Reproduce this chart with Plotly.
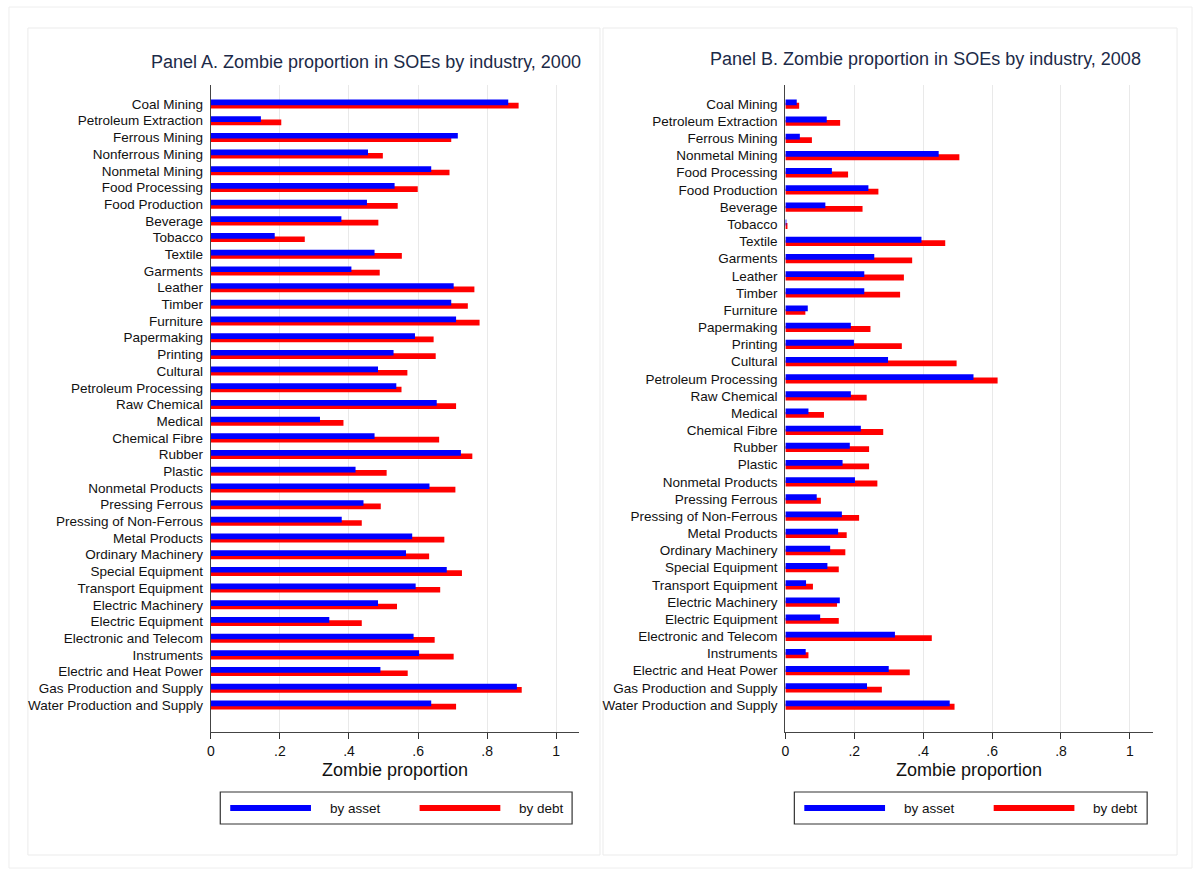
import plotly.graph_objects as go

# ---- Data -------------------------------------------------------------
industries_2000 = [
    "Coal Mining", "Petroleum Extraction", "Ferrous Mining", "Nonferrous Mining",
    "Nonmetal Mining", "Food Processing", "Food Production", "Beverage", "Tobacco",
    "Textile", "Garments", "Leather", "Timber", "Furniture", "Papermaking",
    "Printing", "Cultural", "Petroleum Processing", "Raw Chemical", "Medical",
    "Chemical Fibre", "Rubber", "Plastic", "Nonmetal Products", "Pressing Ferrous",
    "Pressing of Non-Ferrous", "Metal Products", "Ordinary Machinery",
    "Special Equipment", "Transport Equipment", "Electric Machinery",
    "Electric Equipment", "Electronic and Telecom", "Instruments",
    "Electric and Heat Power", "Gas Production and Supply",
    "Water Production and Supply",
]
asset_2000 = [
    0.861, 0.145, 0.715, 0.455, 0.638, 0.532, 0.452, 0.378, 0.185, 0.474,
    0.407, 0.703, 0.696, 0.710, 0.591, 0.529, 0.484, 0.537, 0.654, 0.316,
    0.474, 0.724, 0.419, 0.633, 0.442, 0.379, 0.583, 0.565, 0.683, 0.593,
    0.484, 0.343, 0.587, 0.603, 0.491, 0.886, 0.638,
]
debt_2000 = [
    0.891, 0.204, 0.696, 0.498, 0.691, 0.599, 0.541, 0.485, 0.272, 0.553,
    0.489, 0.763, 0.744, 0.778, 0.645, 0.651, 0.569, 0.552, 0.710, 0.384,
    0.661, 0.757, 0.509, 0.708, 0.492, 0.437, 0.676, 0.632, 0.727, 0.664,
    0.539, 0.437, 0.648, 0.703, 0.570, 0.900, 0.710,
]

industries_2008 = [
    "Coal Mining", "Petroleum Extraction", "Ferrous Mining", "Nonmetal Mining",
    "Food Processing", "Food Production", "Beverage", "Tobacco", "Textile",
    "Garments", "Leather", "Timber", "Furniture", "Papermaking", "Printing",
    "Cultural", "Petroleum Processing", "Raw Chemical", "Medical",
    "Chemical Fibre", "Rubber", "Plastic", "Nonmetal Products", "Pressing Ferrous",
    "Pressing of Non-Ferrous", "Metal Products", "Ordinary Machinery",
    "Special Equipment", "Transport Equipment", "Electric Machinery",
    "Electric Equipment", "Electronic and Telecom", "Instruments",
    "Electric and Heat Power", "Gas Production and Supply",
    "Water Production and Supply",
]
asset_2008 = [
    0.033, 0.120, 0.042, 0.445, 0.135, 0.241, 0.116, 0.002, 0.395, 0.258,
    0.229, 0.229, 0.065, 0.190, 0.199, 0.298, 0.546, 0.190, 0.067, 0.219,
    0.187, 0.166, 0.202, 0.091, 0.164, 0.153, 0.130, 0.122, 0.060, 0.158,
    0.101, 0.318, 0.059, 0.300, 0.237, 0.477,
]
debt_2008 = [
    0.040, 0.159, 0.077, 0.505, 0.182, 0.270, 0.224, 0.006, 0.464, 0.368,
    0.344, 0.333, 0.058, 0.247, 0.338, 0.497, 0.616, 0.236, 0.112, 0.284,
    0.243, 0.243, 0.267, 0.103, 0.214, 0.178, 0.174, 0.155, 0.080, 0.150,
    0.155, 0.425, 0.067, 0.361, 0.280, 0.491,
]

x_tick_vals = [0, 0.2, 0.4, 0.6, 0.8, 1.0]
x_tick_text = ["0", ".2", ".4", ".6", ".8", "1"]

panel_titles = [
    "Panel A. Zombie proportion in SOEs by industry, 2000",
    "Panel B. Zombie proportion in SOEs by industry, 2008",
]
series_names = ["by asset", "by debt"]

# ---- Styling ----------------------------------------------------------
W, H = 1195, 870
BLUE, RED = "#0000ff", "#ff0000"
FONT = "Liberation Sans, Arial, Helvetica, sans-serif"
TITLE_COLOR = "#1c2a48"


def px(x):
    return x / W


def py(y):
    return 1 - y / H


fig = go.Figure()

panels = [
    dict(cats=industries_2000, asset=asset_2000, debt=debt_2000,
         xa="x", ya="y", dom=(207.5, 577), yr=[36 + 1.62, -1.14]),
    dict(cats=industries_2008, asset=asset_2008, debt=debt_2008,
         xa="x2", ya="y2", dom=(784, 1152.5), yr=[35 + 1.57, -1.11]),
]

for p in panels:
    # red drawn first so the blue bar sits slightly over it
    fig.add_trace(go.Bar(
        y=p["cats"], x=p["debt"], orientation="h", name=series_names[1],
        marker=dict(color=RED, line=dict(width=0)),
        offset=-0.07, width=0.34, xaxis=p["xa"], yaxis=p["ya"],
        showlegend=False,
    ))
    fig.add_trace(go.Bar(
        y=p["cats"], x=p["asset"], orientation="h", name=series_names[0],
        marker=dict(color=BLUE, line=dict(width=0)),
        offset=-0.27, width=0.34, xaxis=p["xa"], yaxis=p["ya"],
        showlegend=False,
    ))

xaxis_common = dict(
    range=[0, 1.066], tickvals=x_tick_vals, ticktext=x_tick_text,
    ticks="outside", ticklen=6, tickwidth=1.2, tickcolor="#333",
    showline=True, linecolor="#444", linewidth=1.2,
    showgrid=True, gridcolor="#e9e9e9", gridwidth=1.2, zeroline=False,
    tickfont=dict(size=14, color="#111", family=FONT),
    title=dict(text="Zombie proportion", font=dict(size=18, color="#111", family=FONT),
               standoff=5),
)
yaxis_common = dict(
    type="category", showline=True, linecolor="#444", linewidth=1.2,
    ticks="", showgrid=False, zeroline=False,
    tickfont=dict(size=13.5, color="#111", family=FONT),
    ticklabelstandoff=4,
)

y_dom = [py(732), py(85)]
fig.update_layout(
    width=W, height=H,
    margin=dict(l=0, r=0, t=0, b=0),
    paper_bgcolor="white", plot_bgcolor="white",
    barmode="overlay",
    font=dict(family=FONT),
    xaxis=dict(domain=[px(panels[0]["dom"][0]), px(panels[0]["dom"][1])],
               anchor="y", **xaxis_common),
    yaxis=dict(domain=y_dom, anchor="x", range=panels[0]["yr"], **yaxis_common),
    xaxis2=dict(domain=[px(panels[1]["dom"][0]), px(panels[1]["dom"][1])],
                anchor="y2", **xaxis_common),
    yaxis2=dict(domain=y_dom, anchor="x2", range=panels[1]["yr"], **yaxis_common),
)

shapes = []
annotations = []

# outer frame and the two panel frames
shapes.append(dict(type="rect", xref="paper", yref="paper",
                   x0=px(5), x1=px(1192), y0=py(868), y1=py(7),
                   line=dict(color="#eeeeee", width=1), layer="below"))
for x0, x1 in [(24, 598), (601, 1177)]:
    shapes.append(dict(type="rect", xref="paper", yref="paper",
                       x0=px(x0), x1=px(x1), y0=py(855), y1=py(28),
                       line=dict(color="#ebebeb", width=1), layer="below"))

# panel titles
for title, cx, cy in [(panel_titles[0], 363, 62), (panel_titles[1], 925, 59)]:
    annotations.append(dict(text=title, xref="paper", yref="paper",
                            x=px(cx), y=py(cy), xanchor="center", yanchor="middle",
                            showarrow=False,
                            font=dict(size=18, color=TITLE_COLOR, family=FONT)))

# boxed legends beneath each panel
for bx0, bx1 in [(217, 570), (793, 1147)]:
    shapes.append(dict(type="rect", xref="paper", yref="paper",
                       x0=px(bx0), x1=px(bx1), y0=py(824), y1=py(792),
                       line=dict(color="#333", width=1.2)))
    ly = 808
    items = [(BLUE, series_names[0], bx0 + 10, bx0 + 108),
             (RED, series_names[1], bx0 + 200, bx0 + 298)]
    for color, label, lx0, tx in items:
        shapes.append(dict(type="line", xref="paper", yref="paper",
                           x0=px(lx0), x1=px(lx0 + 81), y0=py(ly), y1=py(ly),
                           line=dict(color=color, width=6)))
        annotations.append(dict(text=label, xref="paper", yref="paper",
                                x=px(tx), y=py(ly), xanchor="left", yanchor="middle",
                                showarrow=False,
                                font=dict(size=13.5, color="#111", family=FONT)))

fig.update_layout(shapes=shapes, annotations=annotations)

fig.write_html("out.html")
